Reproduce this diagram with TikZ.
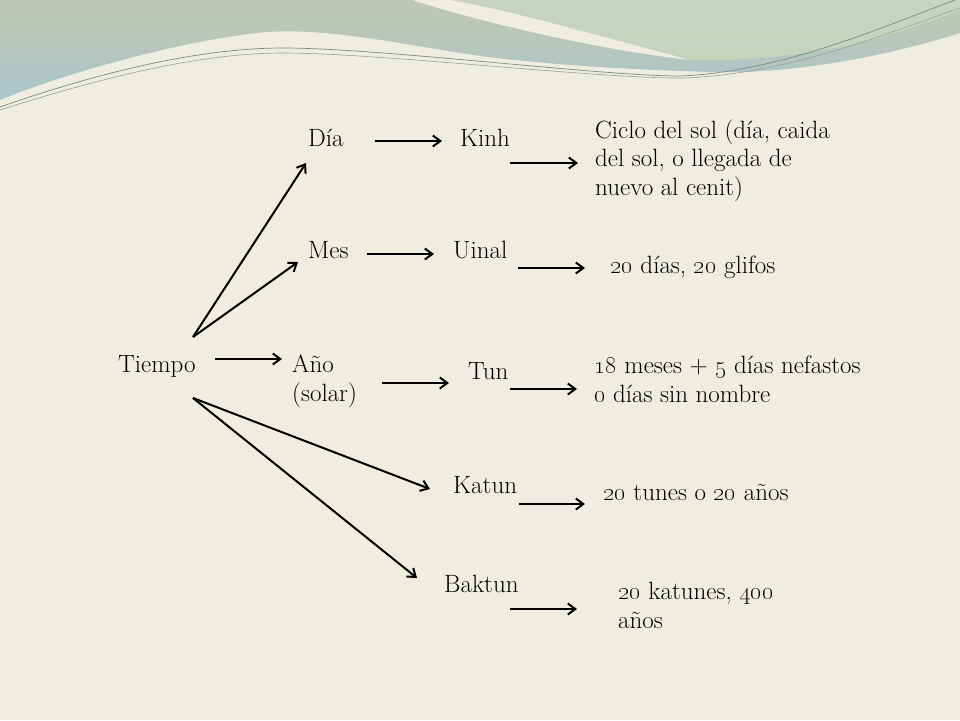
\documentclass[tikz,border=0pt]{standalone}
\usetikzlibrary{arrows.meta,calc}
\definecolor{bgcream}{RGB}{238,237,224}
\definecolor{bandtop}{RGB}{192,199,177}
\definecolor{bandbot}{RGB}{170,198,204}
\definecolor{uppergreen}{RGB}{200,211,192}
\definecolor{uppergreen2}{RGB}{196,212,186}
\definecolor{swline}{RGB}{120,140,128}
\newcommand{\osn}[1]{\oldstylenums{#1}}
\begin{document}
\begin{tikzpicture}[x=1pt,y=-1pt,
  txt/.style={anchor=base west,inner sep=0pt,align=left,
    font=\fontsize{25}{28.5}\selectfont},
  arr/.style={-{Straight Barb[length=7.5pt,width=11pt,line width=2pt]},line width=2pt,black}]
% background
\fill[bgcream] (0,0) rectangle (960,720);
\useasboundingbox (0,0) rectangle (960,720);
% decorative band
\shade[top color=bandtop,bottom color=bandbot]
  (0,0) -- (960,0) -- (960,33)
  .. controls (880,58) and (790,74) .. (713,72)
  .. controls (640,70) and (560,66) .. (480,56)
  .. controls (400,44) and (330,28) .. (267,32)
  .. controls (180,40) and (60,75) .. (0,100) -- cycle;
\shade[top color=uppergreen,bottom color=uppergreen2]
  (450,0) -- (960,0) -- (960,10)
  .. controls (880,42) and (800,62) .. (690,60)
  .. controls (600,36) and (500,8) .. (450,0) -- cycle;
\fill[bgcream]
  (412,0) .. controls (480,22) and (600,50) .. (690,60)
  .. controls (600,36) and (500,8) .. (450,0) -- cycle;
\draw[swline,line width=0.7pt]
  (0,107) .. controls (100,72) and (200,48) .. (283,48)
  .. controls (380,48) and (600,76) .. (680,76)
  .. controls (780,72) and (880,28) .. (955,0);
\draw[swline!80,line width=0.6pt]
  (0,110) .. controls (100,78) and (200,53) .. (283,53)
  .. controls (380,53) and (600,79) .. (684,78)
  .. controls (790,74) and (890,32) .. (960,8);
% text nodes (base = baseline of the last line)
\node[txt] (tiempo) at (118,372) {Tiempo};
\node[txt] (dia) at (308,146) {Día};
\node[txt] (kinh) at (460,146) {Kinh};
\node[txt] (ciclo) at (595,195) {Ciclo del sol (día, caida\\del sol, o llegada de\\nuevo al cenit)};
\node[txt] (mes) at (308,258) {Mes};
\node[txt] (uinal) at (453,258) {Uinal};
\node[txt] (veinte) at (610,273) {\osn{20} días, \osn{20} glifos};
\node[txt] (anio) at (292,401) {Año\\(solar)};
\node[txt] (tun) at (468,379) {Tun};
\node[txt] (meses) at (594,402) {\osn{18} meses + \osn{5} días nefastos\\\osn{0} días sin nombre};
\node[txt] (katun) at (453,493) {Katun};
\node[txt] (tunes) at (603,500) {\osn{20} tunes o \osn{20} años};
\node[txt] (baktun) at (444,592) {Baktun};
\node[txt] (katunes) at (618,628) {\osn{20} katunes, \osn{400}\\años};
% connectors
\draw[arr] ($(dia.base west)+(67,-5)$) -- ($(kinh.base west)+(-18,-5)$);
\draw[arr] ($(kinh.base west)+(50,17)$) -- ($(ciclo.base west)+(-17,-32)$);
\draw[arr] ($(mes.base west)+(59,-4)$) -- ($(uinal.base west)+(-19,-4)$);
\draw[arr] ($(uinal.base west)+(65,10)$) -- ($(veinte.base west)+(-25,-5)$);
\draw[arr] ($(tiempo.base west)+(97,-13)$) -- ($(anio.base west)+(-10,-42)$);
\draw[arr] ($(anio.base west)+(90,-18)$) -- ($(tun.base west)+(-19,4)$);
\draw[arr] ($(tun.base west)+(42,10)$) -- ($(meses.base west)+(-17,-13)$);
\draw[arr] ($(tiempo.base west)+(75,-35)$) -- ($(dia.base west)+(-2,17)$);
\draw[arr] ($(tiempo.base west)+(75,-35)$) -- ($(mes.base west)+(-10,4)$);
\draw[arr] ($(tiempo.base west)+(75,26)$) -- ($(katun.base west)+(-23,-4)$);
\draw[arr] ($(tiempo.base west)+(75,26)$) -- ($(baktun.base west)+(-27,-14)$);
\draw[arr] ($(katun.base west)+(66,11)$) -- ($(tunes.base west)+(-18,4)$);
\draw[arr] ($(baktun.base west)+(66,17)$) -- ($(katunes.base west)+(-41,-19)$);
\end{tikzpicture}
\end{document}
